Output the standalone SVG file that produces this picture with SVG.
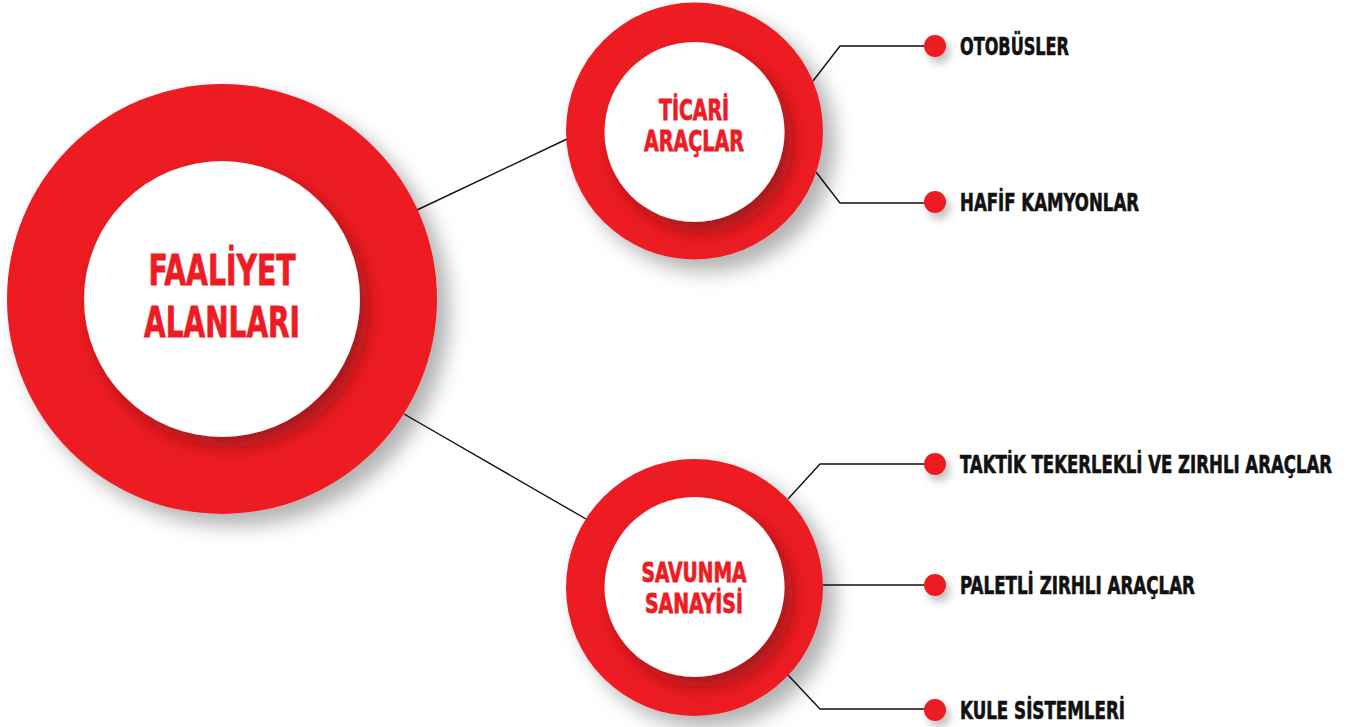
<svg xmlns="http://www.w3.org/2000/svg" width="1353" height="727" viewBox="0 0 1353 727">
<defs>
<filter id="sh" x="-30%" y="-30%" width="170%" height="170%">
<feDropShadow dx="12" dy="12" stdDeviation="10" flood-color="#000" flood-opacity="0.3"/>
</filter>
<filter id="ish" x="-30%" y="-30%" width="170%" height="170%">
<feDropShadow dx="8" dy="10" stdDeviation="9" flood-color="#6b0a0e" flood-opacity="0.55"/>
</filter>
<filter id="dsh" x="-100%" y="-100%" width="300%" height="300%">
<feDropShadow dx="4" dy="6" stdDeviation="4" flood-color="#000" flood-opacity="0.25"/>
</filter>
<style>
.ring{fill:#ED1C24;}
.core{fill:#fff;}
.ttl{font-family:"Liberation Sans Narrow","DejaVu Sans Condensed","Liberation Sans",sans-serif;font-weight:bold;fill:#ED1C24;stroke:#ED1C24;stroke-width:0.8;text-anchor:middle;}
.lbl{font-family:"Liberation Sans Narrow","DejaVu Sans Condensed","Liberation Sans",sans-serif;font-weight:bold;fill:#111;stroke:#111;stroke-width:0.6;font-size:24px;}
.dot{fill:#ED1C24;}
.con{fill:none;stroke:#111;stroke-width:1.4;}
</style>
</defs>
<rect width="1353" height="727" fill="#fff"/>
<g id="connectors">
<path class="con" d="M417 210 L567 139"/>
<path class="con" d="M404 414 L586 519"/>
<path class="con" d="M813 81 L840 46 L935 46"/>
<path class="con" d="M816 172 L840 203 L935 203"/>
<path class="con" d="M788 499 L820 464 L935 464"/>
<path class="con" d="M823 585 L935 585"/>
<path class="con" d="M788 675 L820 709 L935 709"/>
</g>
<g id="faaliyet">
<circle class="ring" cx="222" cy="299" r="215" filter="url(#sh)"/>
<circle class="core" cx="222" cy="299" r="138" filter="url(#ish)"/>
<text class="ttl" x="222" y="285" font-size="42" textLength="147" lengthAdjust="spacingAndGlyphs">FAALİYET</text>
<text class="ttl" x="222" y="337" font-size="42" textLength="156" lengthAdjust="spacingAndGlyphs">ALANLARI</text>
</g>
<g id="ticari">
<circle class="ring" cx="694.5" cy="131" r="128.5" filter="url(#sh)"/>
<circle class="core" cx="694.5" cy="132" r="90" filter="url(#ish)"/>
<text class="ttl" x="694" y="120" font-size="28" textLength="70" lengthAdjust="spacingAndGlyphs">TİCARİ</text>
<text class="ttl" x="694" y="151" font-size="28" textLength="100" lengthAdjust="spacingAndGlyphs">ARAÇLAR</text>
</g>
<g id="savunma">
<circle class="ring" cx="694.5" cy="587.5" r="128.5" filter="url(#sh)"/>
<circle class="core" cx="694.5" cy="587" r="90" filter="url(#ish)"/>
<text class="ttl" x="694" y="582" font-size="27" textLength="105" lengthAdjust="spacingAndGlyphs">SAVUNMA</text>
<text class="ttl" x="694" y="613" font-size="27" textLength="98" lengthAdjust="spacingAndGlyphs">SANAYİSİ</text>
</g>
<g id="otobusler">
<circle class="dot" cx="935" cy="46" r="11" filter="url(#dsh)"/>
<text class="lbl" x="960" y="54.5" textLength="109" lengthAdjust="spacingAndGlyphs">OTOBÜSLER</text>
</g>
<g id="hafif-kamyonlar">
<circle class="dot" cx="935" cy="202" r="11" filter="url(#dsh)"/>
<text class="lbl" x="960" y="210.5" textLength="179" lengthAdjust="spacingAndGlyphs">HAFİF KAMYONLAR</text>
</g>
<g id="taktik">
<circle class="dot" cx="935" cy="464" r="11" filter="url(#dsh)"/>
<g transform="translate(960 472.5) scale(0.75 1)">
<text class="lbl" x="0" y="0" textLength="496" lengthAdjust="spacingAndGlyphs">TAKTİK TEKERLEKLİ VE ZIRHLI ARAÇLAR</text>
</g>
</g>
<g id="paletli">
<circle class="dot" cx="935" cy="585" r="11" filter="url(#dsh)"/>
<text class="lbl" x="960" y="593.5" textLength="235" lengthAdjust="spacingAndGlyphs">PALETLİ ZIRHLI ARAÇLAR</text>
</g>
<g id="kule">
<circle class="dot" cx="935" cy="710" r="11" filter="url(#dsh)"/>
<text class="lbl" x="960" y="718.5" textLength="165" lengthAdjust="spacingAndGlyphs">KULE SİSTEMLERİ</text>
</g>
</svg>
